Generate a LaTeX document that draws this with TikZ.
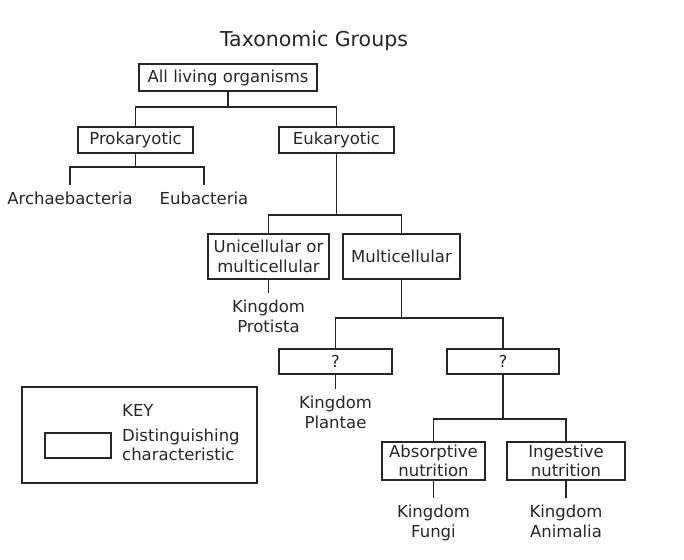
\documentclass[tikz,border=0pt]{standalone}
\usepackage{fontspec}
\setmainfont{DejaVu Sans}
\usetikzlibrary{positioning}

\colorlet{ink}{black!85}

\begin{document}
\begin{tikzpicture}[
  x=1pt,
  y=-1pt,
  every node/.style={text=ink},
  box/.style={draw=ink, line width=1.5pt, inner sep=0pt, align=center,
    font=\fontsize{16.5}{19.5}\selectfont},
  leaf/.style={inner sep=0pt, outer sep=7pt, anchor=north, align=center,
    font=\fontsize{16.5}{19.5}\selectfont},
  link/.style={draw=ink, line width=1.5pt}
]
\useasboundingbox (0,0) rectangle (684,559);

% ---------- title ----------
\node[font=\fontsize{20.5}{24}\selectfont, anchor=base] (title) at (314,47) {Taxonomic Groups};

% ---------- boxes ----------
\node[box, minimum width=178, minimum height=27] (all)  at (228,77.5)   {All living organisms};
\node[box, minimum width=115, minimum height=26] (prok) at (135.5,140)  {Prokaryotic};
\node[box, minimum width=115, minimum height=26] (euk)  at (336.5,140)  {Eukaryotic};
\node[box, minimum width=121, minimum height=45] (uni)  at (268.5,256.5) {Unicellular or\\multicellular};
\node[box, minimum width=117, minimum height=45] (mult) at (401.5,256.5) {Multicellular};
\node[box, minimum width=113, minimum height=25] (qa)   at (335.5,361.5) {?};
\node[box, minimum width=112, minimum height=25] (qb)   at (503,361.5)   {?};
\node[box, minimum width=103, minimum height=38] (abs)  at (433.5,461)   {Absorptive\\nutrition};
\node[box, minimum width=118, minimum height=38] (ing)  at (566,461)     {Ingestive\\nutrition};

% ---------- leaves ----------
\node[leaf] (arch) at (70,184.5)   {Archaebacteria};
\node[leaf] (eub)  at (204,184.5)  {Eubacteria};
\node[leaf] (prot) at (268.5,293)  {Kingdom\\Protista};
\node[leaf] (plan) at (335.5,389)  {Kingdom\\Plantae};
\node[leaf] (fung) at (433.5,498)  {Kingdom\\Fungi};
\node[leaf] (anim) at (566,498)    {Kingdom\\Animalia};

% ---------- junctions ----------
\coordinate (jall)  at (228,107);
\coordinate (jprok) at (135.5,167);
\coordinate (jeuk)  at (336.5,215);
\coordinate (jmult) at (401.5,318);
\coordinate (jqb)   at (503,419);

% ---------- connectors ----------
\draw[link] (all.south) -- (jall);
\draw[link] (prok.north) |- (jall) -| (euk.north);
\draw[link] (prok.south) -- (jprok);
\draw[link] (arch.north) |- (jprok) -| (eub.north);
\draw[link] (euk.south) -- (jeuk);
\draw[link] (uni.north) |- (jeuk) -| (mult.north);
\draw[link] (uni.south) -- (prot.north);
\draw[link] (mult.south) -- (jmult);
\draw[link] (qa.north) |- (jmult) -| (qb.north);
\draw[link] (qa.south) -- (plan.north);
\draw[link] (qb.south) -- (jqb);
\draw[link] (abs.north) |- (jqb) -| (ing.north);
\draw[link] (abs.south) -- (fung.north);
\draw[link] (ing.south) -- (anim.north);

% ---------- key ----------
\draw[link] (22,387) rectangle (257,483);
\node[box, minimum width=66, minimum height=25] (keysym) at (78,445.5) {};
\node[anchor=base west, inner sep=0pt, font=\fontsize{16.5}{19.5}\selectfont] (keyhead) at (122,416) {KEY};
\node[anchor=north west, inner sep=0pt, align=left, font=\fontsize{16.5}{19.5}\selectfont] (keytext) at (122,428.5) {Distinguishing\\characteristic};

\end{tikzpicture}
\end{document}
